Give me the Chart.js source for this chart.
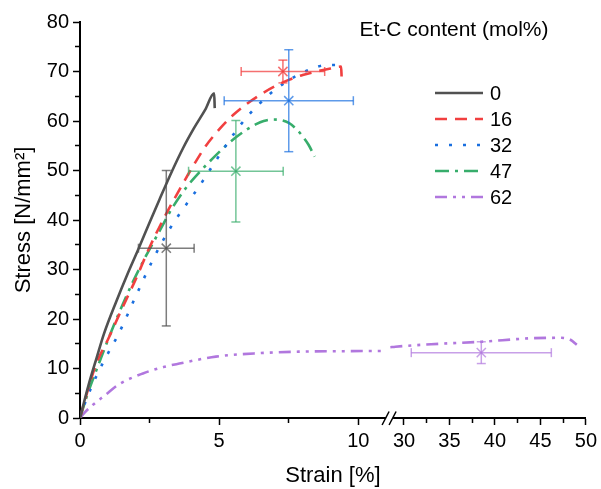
<!DOCTYPE html>
<html>
<head>
<meta charset="utf-8">
<title>Stress-strain curves</title>
<script src="https://cdn.jsdelivr.net/npm/chart.js@4.4.1/dist/chart.umd.min.js"></script>
<style>
  html, body { margin: 0; padding: 0; background: #fff; }
  #wrap { width: 601px; height: 489px; }
</style>
</head>
<body>
<div id="wrap"><canvas id="chart"></canvas></div>
<script>
// Et-C content (mol%) of the samples
var contents = ["0", "16", "32", "47", "62"];

// stress-strain curves, strain in %, stress in N/mm2
var strain0 = [0, 0.3, 0.6, 0.86, 1.3, 1.7, 2.08, 2.5, 2.86, 3.3, 3.7, 4.1, 4.5, 4.82, 4.84];
var stress0 = [0, 6.5, 12.2, 17.0, 23.5, 29.0, 33.9, 39.5, 44.2, 49.8, 54.5, 58.6, 62.3, 65.6, 62.6];

var strain16 = [0, 0.3, 0.6, 1.0, 1.5, 2.0, 2.5, 3.0, 3.5, 4.0, 4.5, 5.0, 5.5, 6.0, 6.5, 7.0, 7.5, 8.0, 8.5, 9.0, 9.38, 9.4];
var stress16 = [0, 6.0, 11.2, 15.8, 22.0, 28.0, 34.5, 40.2, 45.4, 50.3, 54.8, 58.3, 61.2, 63.5, 65.4, 67.0, 68.3, 69.3, 70.0, 70.6, 71.0, 68.7];

var strain32 = [0, 0.2, 0.6, 1.0, 1.37, 2.02, 2.62, 3.2, 3.8, 4.26, 4.79, 5.33, 5.71, 6.07, 6.43, 6.85, 7.3, 7.8, 8.31, 8.83, 9.35];
var stress32 = [0, 3.3, 8.6, 13.0, 16.8, 24.8, 32.0, 38.0, 43.0, 46.6, 51.2, 55.8, 58.8, 61.3, 63.4, 65.6, 67.5, 69.2, 70.5, 71.3, 71.3];

var strain47 = [0, 0.3, 0.7, 1.19, 1.6, 1.9, 2.3, 2.86, 3.3, 3.81, 4.35, 4.76, 5.2, 5.6, 6.0, 6.31, 6.6, 6.9, 7.2, 7.5, 7.75, 8.0, 8.21, 8.43];
var stress47 = [0, 5.3, 11.3, 18.4, 23.8, 27.5, 32.0, 37.8, 42.3, 46.5, 50.0, 52.4, 54.8, 56.7, 58.3, 59.3, 60.0, 60.3, 60.2, 59.6, 58.5, 56.9, 55.2, 52.8];

var strain62 = [0, 0.15, 0.45, 0.9, 1.4, 2.26, 3.0, 3.57, 4.88, 6.43, 7.86, 9.5, 11.0, 28.5, 29.05, 32.98, 38.5, 43.9, 47.2, 48.3, 49.0];
var stress62 = [0, 1.0, 2.6, 4.6, 6.8, 9.0, 10.3, 11.0, 12.4, 13.1, 13.4, 13.5, 13.55, 14.3, 14.4, 14.9, 15.4, 16.1, 16.2, 15.8, 14.8];

// mean elongation / strength at break with standard deviation
var breakStrain = [3.1, 7.29, 7.5, 5.6, 38.5];
var breakStrainErr = [1.0, 1.5, 2.32, 1.7, 7.7];
var breakStress = [34.3, 70.0, 64.1, 49.85, 13.2];
var breakStressErr = [15.7, 2.3, 10.3, 10.25, 2.2];

// tick labels
var xTickLabels = [0, 5, 10, 30, 35, 40, 45, 50];
var yTickLabels = [0, 10, 20, 30, 40, 50, 60, 70, 80];

// broken strain axis: 0..leftMax | rightMin..rightMax
var leftMax = 11.14, rightMin = 28.47, rightMax = 50;

var strains = [strain0, strain16, strain32, strain47, strain62];
var stresses = [stress0, stress16, stress32, stress47, stress62];

var colors = ["#515151", "#f14040", "#1a6fdf", "#37ad6b", "#b177de"];
var errColors = ["rgba(81,81,81,0.75)", "rgba(241,64,64,0.75)", "rgba(26,111,223,0.7)", "rgba(55,173,107,0.7)", "rgba(177,119,222,0.7)"];
var dashes = [[], [12, 8], [3, 11], [14, 6, 3, 6], [12, 6, 3, 6, 3, 6]];

Chart.defaults.font.family = "'Liberation Sans', Arial, sans-serif";
Chart.defaults.color = "#000";

function pts(xs, ys, keep) {
  var out = [];
  for (var i = 0; i < xs.length; i++) {
    if (keep(xs[i])) out.push({x: xs[i], y: ys[i]});
  }
  return out;
}

var datasets = [];

// error bars (drawn on top)
for (var i = 0; i < contents.length; i++) {
  var axis = breakStrain[i] >= rightMin ? "x2" : "x";
  var cx = breakStrain[i], cy = breakStress[i];
  var ex = breakStrainErr[i], ey = breakStressErr[i];
  datasets.push({
    label: "", xAxisID: axis, showLine: true,
    data: [{x: cx - ex, y: cy}, {x: cx + ex, y: cy}],
    borderColor: errColors[i], borderWidth: 1.5,
    pointStyle: "line", pointRotation: 90, pointRadius: 4.5, pointBorderWidth: 1.5
  });
  datasets.push({
    label: "", xAxisID: axis, showLine: true,
    data: [{x: cx, y: cy - ey}, {x: cx, y: cy + ey}],
    borderColor: errColors[i], borderWidth: 1.5,
    pointStyle: "line", pointRotation: 0, pointRadius: 4.5, pointBorderWidth: 1.5
  });
  datasets.push({
    label: "", xAxisID: axis, showLine: false,
    data: [{x: cx, y: cy}],
    borderColor: errColors[i],
    pointStyle: "crossRot", pointRadius: 6.5, pointBorderWidth: 1.5
  });
}

// curves, split at the axis break
for (var i = 0; i < contents.length; i++) {
  var left = pts(strains[i], stresses[i], function(v) { return v <= leftMax; });
  var right = pts(strains[i], stresses[i], function(v) { return v >= rightMin; });
  [[left, "x"], [right, "x2"]].forEach(function(part) {
    if (!part[0].length) return;
    datasets.push({
      label: contents[i], xAxisID: part[1], showLine: true,
      data: part[0],
      borderColor: colors[i], borderWidth: 2.6, borderDash: dashes[i],
      pointRadius: 0, pointHitRadius: 0,
      cubicInterpolationMode: "monotone"
    });
  });
}

function tickDashLeft(ctx) {
  return yTickLabels.indexOf(ctx.tick.value) >= 0 ? [] : [0, 2, 10];
}
function tickDashBottom(ctx) {
  return xTickLabels.indexOf(ctx.tick.value) >= 0 ? [] : [4, 10];
}

function xAxis(min, max, weight) {
  return {
    type: "linear", position: "bottom", min: min, max: max,
    stack: "strain", stackWeight: weight,
    border: {display: true, color: "#000", width: 2},
    grid: {drawOnChartArea: false, tickLength: 7, tickColor: "#000", tickWidth: 1.5, tickBorderDash: tickDashBottom},
    ticks: {
      stepSize: 2.5, includeBounds: false, autoSkip: false, maxRotation: 0, padding: 4,
      font: {size: 20},
      callback: function(v) { return xTickLabels.indexOf(v) >= 0 ? String(v) : ""; }
    },
    afterFit: function(s) { s.height = 44.6; }
  };
}

// legend drawn inside the plot, top right
var legendBox = {
  id: "legendBox",
  afterDraw: function(chart) {
    var ctx = chart.ctx;
    ctx.save();
    ctx.fillStyle = "#000";
    ctx.textBaseline = "middle";
    ctx.textAlign = "center";
    ctx.font = "21px 'Liberation Sans', Arial, sans-serif";
    ctx.fillText("Et-C content (mol%)", 454, 30);
    ctx.textAlign = "left";
    ctx.font = "20px 'Liberation Sans', Arial, sans-serif";
    for (var i = 0; i < contents.length; i++) {
      var y = 93 + i * 26;
      ctx.strokeStyle = colors[i];
      ctx.lineWidth = 2.6;
      ctx.setLineDash(dashes[i]);
      ctx.beginPath();
      ctx.moveTo(435, y);
      ctx.lineTo(483, y);
      ctx.stroke();
      ctx.setLineDash([]);
      ctx.fillText(contents[i], 490, y + 1);
    }
    ctx.restore();
  }
};

// "//" marks where the strain axis is broken
var axisBreak = {
  id: "axisBreak",
  afterDraw: function(chart) {
    var ctx = chart.ctx;
    var bx = chart.scales.x.right, by = chart.chartArea.bottom;
    ctx.save();
    ctx.fillStyle = "#fff";
    ctx.fillRect(bx - 4, by - 1.5, 7, 3);
    ctx.strokeStyle = "#000";
    ctx.lineWidth = 1.5;
    ctx.beginPath();
    ctx.moveTo(bx - 8, by + 7); ctx.lineTo(bx - 1, by - 6.5);
    ctx.moveTo(bx - 1, by + 7); ctx.lineTo(bx + 6, by - 6.5);
    ctx.stroke();
    ctx.restore();
  }
};

new Chart(document.getElementById("chart"), {
  type: "scatter",
  data: {datasets: datasets},
  options: {
    responsive: true,
    maintainAspectRatio: false,
    animation: false,
    events: [],
    layout: {padding: {left: 6, right: 12, top: 22, bottom: 0}},
    plugins: {
      legend: {display: false},
      tooltip: {enabled: false},
      title: {
        display: true, text: "Strain [%]", position: "bottom", fullSize: false,
        font: {size: 22, weight: "normal"}, padding: 0, color: "#000"
      }
    },
    scales: {
      x: xAxis(0, leftMax, 312),
      x2: xAxis(rightMin, rightMax, 197),
      y: {
        type: "linear", position: "left", min: 0, max: 80,
        border: {display: true, color: "#000", width: 2},
        grid: {drawOnChartArea: false, tickLength: 7, tickColor: "#000", tickWidth: 1.5, tickBorderDash: tickDashLeft},
        ticks: {
          stepSize: 5, autoSkip: false, padding: 4, font: {size: 20},
          callback: function(v) { return yTickLabels.indexOf(v) >= 0 ? String(v) : ""; }
        },
        title: {display: true, text: "Stress [N/mm²]", font: {size: 22}, padding: {top: 5, bottom: 0}},
        afterFit: function(s) { s.width = 74; }
      }
    }
  },
  plugins: [legendBox, axisBreak]
});
</script>
</body>
</html>
